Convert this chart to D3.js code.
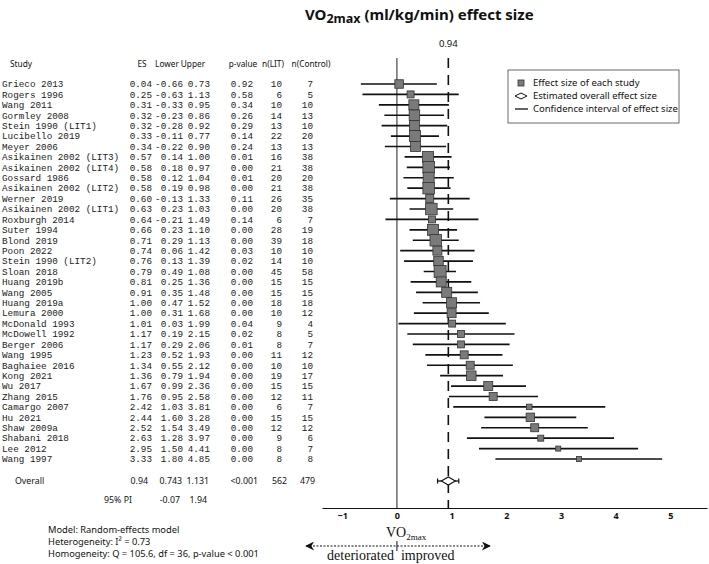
<!DOCTYPE html>
<html>
<head>
<meta charset="utf-8">
<script src="https://cdn.jsdelivr.net/npm/d3@7"></script>
<style>
  body { margin: 0; background: #fff; }
  svg { display: block; }
</style>
</head>
<body>
<div id="chartHolder"></div>
<script>
// study rows, top to bottom
const studies = ["Grieco 2013","Rogers 1996","Wang 2011","Gormley 2008","Stein 1990 (LIT1)","Lucibello 2019","Meyer 2006",
  "Asikainen 2002 (LIT3)","Asikainen 2002 (LIT4)","Gossard 1986","Asikainen 2002 (LIT2)","Werner 2019","Asikainen 2002 (LIT1)",
  "Roxburgh 2014","Suter 1994","Blond 2019","Poon 2022","Stein 1990 (LIT2)","Sloan 2018","Huang 2019b","Wang 2005","Huang 2019a",
  "Lemura 2000","McDonald 1993","McDowell 1992","Berger 2006","Wang 1995","Baghaiee 2016","Kong 2021","Wu 2017","Zhang 2015",
  "Camargo 2007","Hu 2021","Shaw 2009a","Shabani 2018","Lee 2012","Wang 1997"];
const es    = [0.04,0.25,0.31,0.32,0.32,0.33,0.34,0.57,0.58,0.58,0.58,0.60,0.63,0.64,0.66,0.71,0.74,0.76,0.79,0.81,0.91,1.00,1.00,1.01,1.17,1.17,1.23,1.34,1.36,1.67,1.76,2.42,2.44,2.52,2.63,2.95,3.33];
const lower = [-0.66,-0.63,-0.33,-0.23,-0.28,-0.11,-0.22,0.14,0.18,0.12,0.19,-0.13,0.23,-0.21,0.23,0.29,0.06,0.13,0.49,0.25,0.35,0.47,0.31,0.03,0.19,0.29,0.52,0.55,0.79,0.99,0.95,1.03,1.60,1.54,1.28,1.50,1.80];
const upper = [0.73,1.13,0.95,0.86,0.92,0.77,0.90,1.00,0.97,1.04,0.98,1.33,1.03,1.49,1.10,1.13,1.42,1.39,1.08,1.36,1.48,1.52,1.68,1.99,2.15,2.06,1.93,2.12,1.94,2.36,2.58,3.81,3.28,3.49,3.97,4.41,4.85];
const pval  = ["0.92","0.58","0.34","0.26","0.29","0.14","0.24","0.01","0.00","0.01","0.00","0.11","0.00","0.14","0.00","0.00","0.03","0.02","0.00","0.00","0.00","0.00","0.00","0.04","0.02","0.01","0.00","0.00","0.00","0.00","0.00","0.00","0.00","0.00","0.00","0.00","0.00"];
const nLit  = [10,6,10,14,13,22,13,16,21,20,21,26,20,6,28,39,10,14,45,15,15,18,10,9,8,8,11,10,19,15,12,6,15,12,9,8,8];
const nCtrl = [7,5,10,13,10,20,13,38,38,20,38,35,38,7,19,18,10,10,58,15,15,18,12,4,5,7,12,10,17,15,11,7,15,12,6,7,8];
// box size (px)
const boxSize = [8.5,7,10,10.5,10,11,10,11,11.5,11,11.5,8,11.5,7,11,11.5,9,9.5,12,10,10,10,9,7,7,7,8,8,9.5,9,8,5.5,8.5,8,6,5,5];

const overall = {es: 0.94, lower: 0.743, upper: 1.131, p: "<0.001", nLit: 562, nCtrl: 479};
const pi = {lower: -0.07, upper: 1.94};
const xTicks = [-1,0,1,2,3,4,5];
const footnotes = ["Model: Random-effects model", "Heterogeneity: I\u00B2 = 0.73", "Homogeneity: Q = 105.6, df = 36, p-value < 0.001"];

const width = 709, height = 564;
const svg = d3.select("#chartHolder").append("svg")
  .attr("width", width).attr("height", height);

const sans = "'Noto Sans', 'Open Sans', sans-serif";
const mono = "'Liberation Mono', 'DejaVu Sans Mono', monospace";
const serif = "'Liberation Serif', 'DejaVu Serif', serif";

const x = d3.scaleLinear().domain([-1.37, 5.67]).range([322, 707]);
const y = d3.scalePoint().domain(studies).range([84, 459]);
const yOverall = 481, yPI = 500, yAxis = 508, yTop = 58;

// title
const title = svg.append("text")
  .attr("x", 305).attr("y", 20)
  .style("font-family", sans).style("font-weight", "bold").style("font-size", "15px")
  .style("fill", "#111");
title.append("tspan").text("VO");
title.append("tspan").attr("dy", 3).style("font-size", "12.5px").text("2max");
title.append("tspan").attr("dy", -3).text(" (ml/kg/min) effect size");

// table header
const header = [["Study", 10, "start"], ["ES", 142, "middle"], ["Lower", 167, "middle"], ["Upper", 193, "middle"],
  ["p-value", 243, "middle"], ["n(LIT)", 273, "middle"], ["n(Control)", 311, "middle"]];
svg.append("g").selectAll("text").data(header).enter().append("text")
  .attr("x", d => d[1]).attr("y", 64).attr("dy", "0.35em")
  .attr("text-anchor", d => d[2])
  .style("font-family", sans).style("font-size", "8.3px").style("fill", "#111")
  .text(d => d[0]);

// table rows
const cols = [
  {x: 152, f: i => es[i].toFixed(2)},
  {x: 183, f: i => lower[i].toFixed(2)},
  {x: 210, f: i => upper[i].toFixed(2)},
  {x: 253, f: i => pval[i]},
  {x: 282, f: i => nLit[i]},
  {x: 313, f: i => nCtrl[i]}
];
const rows = svg.append("g").style("font-family", mono).style("font-size", "9.3px").style("fill", "#222");
studies.forEach((s, i) => {
  rows.append("text").attr("x", 2).attr("y", y(s)).attr("dy", "0.35em").text(s);
  cols.forEach(c => {
    rows.append("text").attr("x", c.x).attr("y", y(s)).attr("dy", "0.35em")
      .attr("text-anchor", "end").text(c.f(i));
  });
});

// overall rows
const ov = svg.append("g").style("font-family", sans).style("font-size", "8.8px").style("fill", "#111");
ov.append("text").attr("x", 15).attr("y", yOverall).attr("dy", "0.35em").text("Overall");
[[148, overall.es.toFixed(2)], [182, overall.lower.toFixed(3)], [209, overall.upper.toFixed(3)],
 [258, overall.p], [287, overall.nLit], [315, overall.nCtrl]].forEach(d => {
  ov.append("text").attr("x", d[0]).attr("y", yOverall).attr("dy", "0.35em").attr("text-anchor", "end").text(d[1]);
});
ov.append("text").attr("x", 132).attr("y", yPI).attr("dy", "0.35em").attr("text-anchor", "end").text("95% PI");
ov.append("text").attr("x", 180).attr("y", yPI).attr("dy", "0.35em").attr("text-anchor", "end").text(pi.lower.toFixed(2));
ov.append("text").attr("x", 207).attr("y", yPI).attr("dy", "0.35em").attr("text-anchor", "end").text(pi.upper.toFixed(2));

// footnotes
svg.append("g").selectAll("text").data(footnotes).enter().append("text")
  .attr("x", 48).attr("y", (d, i) => 530 + i * 12).attr("dy", "0.35em")
  .style("font-family", sans).style("font-size", "9.3px").style("fill", "#111")
  .text(d => d);

// zero line and overall dashed line
svg.append("line").attr("x1", x(0)).attr("x2", x(0)).attr("y1", yTop).attr("y2", yAxis)
  .attr("stroke", "#222").attr("stroke-width", 1);
svg.append("line").attr("x1", x(overall.es)).attr("x2", x(overall.es)).attr("y1", yTop).attr("y2", yAxis)
  .attr("stroke", "#111").attr("stroke-width", 1.6).attr("stroke-dasharray", "10,7");
svg.append("text").attr("x", x(overall.es)).attr("y", 47).attr("text-anchor", "middle")
  .style("font-family", sans).style("font-size", "9.5px").style("fill", "#111")
  .text(overall.es.toFixed(2));

// CIs
svg.append("g").selectAll("line").data(studies).enter().append("line")
  .attr("x1", (d, i) => x(lower[i])).attr("x2", (d, i) => x(upper[i]))
  .attr("y1", d => y(d)).attr("y2", d => y(d))
  .attr("stroke", "#111").attr("stroke-width", 1.6);

// boxes
svg.append("g").selectAll("rect").data(studies).enter().append("rect")
  .attr("x", (d, i) => x(es[i]) - boxSize[i] / 2)
  .attr("y", (d, i) => y(d) - boxSize[i] / 2)
  .attr("width", (d, i) => boxSize[i]).attr("height", (d, i) => boxSize[i])
  .attr("fill", "#7a7a7a").attr("stroke", "#333").attr("stroke-width", 0.8);

// overall CI + diamond
svg.append("line").attr("x1", x(overall.lower)).attr("x2", x(overall.upper))
  .attr("y1", yOverall).attr("y2", yOverall).attr("stroke", "#111").attr("stroke-width", 1.3);
[overall.lower, overall.upper].forEach(v => {
  svg.append("line").attr("x1", x(v)).attr("x2", x(v)).attr("y1", yOverall - 2.5).attr("y2", yOverall + 2.5)
    .attr("stroke", "#111").attr("stroke-width", 1.2);
});
const cx = x(overall.es);
svg.append("path")
  .attr("d", `M${cx - 7},${yOverall} L${cx},${yOverall - 4} L${cx + 7},${yOverall} L${cx},${yOverall + 4} Z`)
  .attr("fill", "#fff").attr("stroke", "#111").attr("stroke-width", 1.1);

// x axis
const xAxis = d3.axisBottom(x).tickValues(xTicks).tickSize(0).tickPadding(5)
  .tickFormat(d => d < 0 ? "\u2212" + Math.abs(d) : d);
const gx = svg.append("g").attr("transform", `translate(0, ${yAxis})`).call(xAxis);
gx.select(".domain").attr("stroke", "#111").attr("stroke-width", 1.2);
gx.selectAll("text").style("font-family", sans).style("font-size", "9px").style("font-weight", "bold").style("fill", "#111");

// legend
const lg = svg.append("g");
lg.append("rect").attr("x", 508).attr("y", 70).attr("width", 171).attr("height", 53)
  .attr("fill", "#fff").attr("stroke", "#444").attr("stroke-width", 0.8);
lg.append("rect").attr("x", 518).attr("y", 80).attr("width", 6).attr("height", 6)
  .attr("fill", "#7a7a7a").attr("stroke", "#333").attr("stroke-width", 0.8);
lg.append("path").attr("d", "M515,96 L521,93 L527,96 L521,99 Z")
  .attr("fill", "#fff").attr("stroke", "#111").attr("stroke-width", 1);
lg.append("line").attr("x1", 515).attr("x2", 528).attr("y1", 109).attr("y2", 109)
  .attr("stroke", "#111").attr("stroke-width", 1.3);
["Effect size of each study", "Estimated overall effect size", "Confidence interval of effect size"].forEach((t, i) => {
  lg.append("text").attr("x", 533).attr("y", 83 + i * 13).attr("dy", "0.35em")
    .style("font-family", sans).style("font-size", "9.5px").style("fill", "#111").text(t);
});

// bottom direction arrow
const vo = svg.append("text").attr("x", 386).attr("y", 537)
  .style("font-family", serif).style("font-size", "14px").style("fill", "#111");
vo.append("tspan").text("VO");
vo.append("tspan").attr("dy", 3).style("font-size", "9px").text("2max");

svg.append("defs").append("marker").attr("id", "arr")
  .attr("viewBox", "0 0 10 10").attr("refX", 9).attr("refY", 5)
  .attr("markerWidth", 14).attr("markerHeight", 9).attr("markerUnits", "userSpaceOnUse")
  .attr("orient", "auto-start-reverse")
  .append("path").attr("d", "M0,0 L10,5 L0,10 L3,5 Z").attr("fill", "#111");
svg.append("line").attr("x1", 306).attr("x2", 490).attr("y1", 546).attr("y2", 546)
  .attr("stroke", "#111").attr("stroke-width", 1).attr("stroke-dasharray", "2,1.5")
  .attr("marker-start", "url(#arr)").attr("marker-end", "url(#arr)");
svg.append("line").attr("x1", x(0)).attr("x2", x(0)).attr("y1", 541).attr("y2", 551)
  .attr("stroke", "#111").attr("stroke-width", 1);
svg.append("text").attr("x", x(0) - 3).attr("y", 560).attr("text-anchor", "end")
  .style("font-family", serif).style("font-size", "14px").style("fill", "#111").text("deteriorated");
svg.append("text").attr("x", x(0) + 4).attr("y", 560)
  .style("font-family", serif).style("font-size", "14px").style("fill", "#111").text("improved");
</script>
</body>
</html>
